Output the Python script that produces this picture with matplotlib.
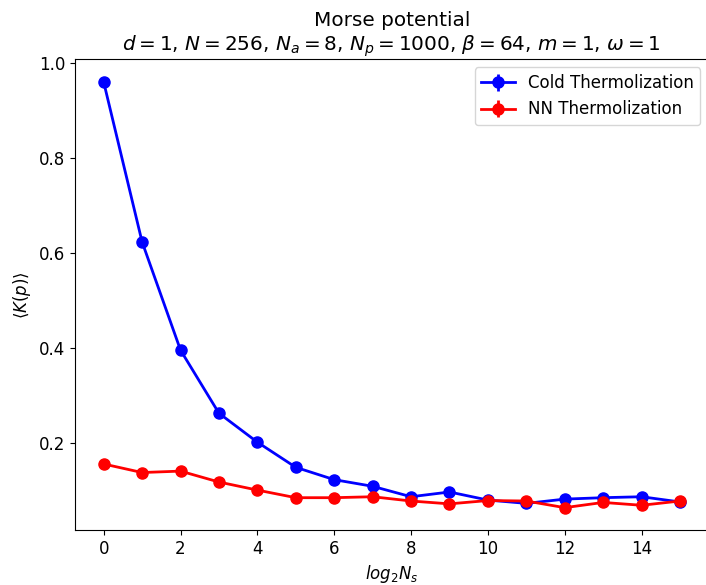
import numpy as np
import matplotlib.pyplot as plt

log2_ns = list(range(16))
cold_k = [0.960, 0.623, 0.395, 0.262, 0.201, 0.148, 0.122, 0.108,
          0.086, 0.096, 0.079, 0.072, 0.081, 0.084, 0.086, 0.075]
cold_err = [0.003, 0.003, 0.002, 0.002, 0.002, 0.002, 0.002, 0.002,
            0.002, 0.002, 0.002, 0.002, 0.002, 0.002, 0.002, 0.002]
nn_k = [0.155, 0.137, 0.140, 0.117, 0.100, 0.084, 0.084, 0.086,
        0.077, 0.071, 0.078, 0.077, 0.063, 0.074, 0.068, 0.077]
nn_err = [0.002, 0.002, 0.002, 0.002, 0.002, 0.002, 0.002, 0.002,
          0.002, 0.002, 0.002, 0.002, 0.002, 0.002, 0.002, 0.002]

plt.rcParams['font.size'] = 12
fig = plt.figure(figsize=(7.06, 5.85), dpi=100)
# axes runs slightly past the right edge, like the cropped original
ax = fig.add_axes([0.106, 0.094, 0.898, 0.805])

ax.errorbar(log2_ns, cold_k, yerr=cold_err, color="blue", marker="o",
            markersize=8, linewidth=2, label="Cold Thermolization")
ax.errorbar(log2_ns, nn_k, yerr=nn_err, color="red", marker="o",
            markersize=8, linewidth=2, label="NN Thermolization")

ax.set_xticks([0, 2, 4, 6, 8, 10, 12, 14])
ax.set_xlabel(r"$log_2 N_s$")
ax.set_ylabel(r"$\langle K(p) \rangle$")
ax.set_title("Morse potential\n" + r"$d=1$, $N=256$, $N_a=8$, $N_p=1000$, $\beta=64$, $m=1$, $\omega=1$")
ax.legend(loc="upper right")

fig.savefig("out.png", dpi=100)
